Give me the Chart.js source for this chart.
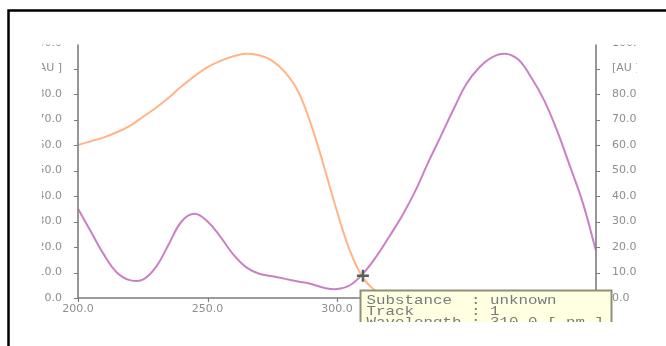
<!DOCTYPE html>
<html>
<head>
<meta charset="utf-8">
<script src="https://cdn.jsdelivr.net/npm/chart.js@4.4.1/dist/chart.umd.min.js"></script>
<style>
  html, body { margin: 0; padding: 0; background: #ffffff; }
  #wrap { position: relative; width: 666px; height: 346px; }
</style>
</head>
<body>
<div id="wrap"><canvas id="c" width="666" height="346"></canvas></div>
<script>
// Track 1 scan: two absorbance traces (AU) over wavelength (nm)
const wavelengthsA = [200, 205, 210, 215, 220, 225, 230, 235, 240, 245, 250, 255, 260,
                      265, 270, 275, 280, 285, 290, 295, 300, 305, 310, 315, 320];
const absorbanceA  = [60, 61.5, 63, 65, 67.5, 71, 74.5, 78.5, 83, 87, 90.5, 93, 94.8,
                      95.8, 95.2, 93, 88.5, 81, 68, 51.5, 34, 18.5, 8, 2.5, -3];

const wavelengthsB = [200, 205, 210, 215, 220, 225, 230, 235, 240, 245, 250, 255, 260,
                      265, 270, 275, 280, 285, 290, 295, 300, 305, 310, 315, 320, 325,
                      330, 335, 340, 345, 350, 355, 360, 365, 370, 375, 380, 385, 390,
                      395, 400];
const absorbanceB  = [35, 26, 17, 10, 7, 7.2, 12, 21, 30, 33, 30, 24, 17,
                      12, 9.5, 8.5, 7.5, 6.5, 5.5, 4, 3.5, 5, 9.5, 16, 23.8, 32,
                      41.5, 52.7, 63.3, 74, 84, 90.5, 94.5, 95.8, 93.5, 86.5, 77.5, 65.5, 51.5,
                      37, 18.5];

const xTickValues = [200, 250, 300, 350, 400];
const xTickLabels = ['200.0', '250.0', '300.0', '350.0', '400.0'];
const yTickValues = [0, 10, 20, 30, 40, 50, 60, 70, 80, 90, 100];
const yTickLabels = ['0.0', '10.0', '20.0', '30.0', '40.0', '50.0', '60.0', '70.0', '80.0', '[AU ]', '100.0'];

// Info box for the cursor position
const cursorWavelength = 310;
const infoLines = [
  'Substance  : unknown',
  'Track      : 1',
  'Wavelength : 310.0 [ nm ]'
];

const toPoints = (xs, ys) => xs.map((x, i) => ({ x: x, y: ys[i] }));

const AXIS = '#7c7c7c';
const LABEL = '#8e8e8e';

function stretchedText(ctx, text, x, y, sx, align) {
  ctx.save();
  ctx.translate(x, y);
  ctx.scale(sx, 1);
  ctx.textAlign = align;
  ctx.fillText(text, 0, 0);
  ctx.restore();
}

const axesPlugin = {
  id: 'scanAxes',
  afterDatasetsDraw(chart) {
    const ctx = chart.ctx;
    const xs = chart.scales.x;
    const ys = chart.scales.y;
    const area = chart.chartArea;

    ctx.save();
    // visible viewport of the instrument window
    ctx.beginPath();
    ctx.rect(42, 44.5, 595, 277.5);
    ctx.clip();

    // axis lines
    ctx.strokeStyle = AXIS;
    ctx.lineWidth = 1.6;
    ctx.beginPath();
    ctx.moveTo(area.left, ys.getPixelForValue(100));
    ctx.lineTo(area.left, ys.getPixelForValue(0));
    ctx.lineTo(area.right, ys.getPixelForValue(0));
    ctx.moveTo(area.right, ys.getPixelForValue(100));
    ctx.lineTo(area.right, ys.getPixelForValue(0));
    ctx.stroke();

    // y ticks on both sides, x ticks below
    ctx.lineWidth = 1.2;
    ctx.beginPath();
    yTickValues.forEach(v => {
      const py = Math.round(ys.getPixelForValue(v)) + 0.5;
      ctx.moveTo(area.left - 4, py); ctx.lineTo(area.left, py);
      ctx.moveTo(area.right, py); ctx.lineTo(area.right + 4, py);
    });
    xTickValues.forEach(v => {
      const px = Math.round(xs.getPixelForValue(v)) + 0.5;
      ctx.moveTo(px, area.bottom); ctx.lineTo(px, area.bottom + 4);
    });
    ctx.stroke();

    // tick labels
    ctx.fillStyle = LABEL;
    ctx.font = '11px "DejaVu Sans"';
    ctx.textBaseline = 'middle';
    yTickValues.forEach((v, i) => {
      const py = ys.getPixelForValue(v);
      stretchedText(ctx, yTickLabels[i], area.left - 16, py, 1.0, 'right');
      stretchedText(ctx, yTickLabels[i], area.right + 16, py, 1.0, 'left');
    });
    xTickValues.forEach((v, i) => {
      stretchedText(ctx, xTickLabels[i], xs.getPixelForValue(v), area.bottom + 11, 1.0, 'center');
    });

    // cursor cross on the lower trace
    const ci = wavelengthsB.indexOf(cursorWavelength);
    const cx = xs.getPixelForValue(cursorWavelength);
    const cy = ys.getPixelForValue(absorbanceB[ci]) + 2;
    ctx.strokeStyle = '#55625a';
    ctx.lineWidth = 2.4;
    ctx.beginPath();
    ctx.moveTo(cx - 6, cy); ctx.lineTo(cx + 6, cy);
    ctx.moveTo(cx, cy - 6); ctx.lineTo(cx, cy + 6);
    ctx.stroke();

    // info box
    const bx = Math.round(cx) - 2.5;
    const by = Math.round(cy) + 14.5;
    ctx.fillStyle = '#ffffe2';
    ctx.fillRect(bx, by, 251, 60);
    ctx.strokeStyle = '#8f8f7a';
    ctx.lineWidth = 2;
    ctx.strokeRect(bx, by, 251, 60);
    ctx.fillStyle = '#7a7a7a';
    ctx.font = '13px "Liberation Mono"';
    ctx.textBaseline = 'alphabetic';
    infoLines.forEach((t, i) => {
      stretchedText(ctx, t, bx + 6, by + 13 + i * 11, 1.218, 'left');
    });
    ctx.restore();

    // window frame
    ctx.save();
    ctx.strokeStyle = '#000000';
    ctx.lineWidth = 2.5;
    ctx.beginPath();
    ctx.moveTo(8.5, 346);
    ctx.lineTo(8.5, 10.5);
    ctx.lineTo(666, 10.5);
    ctx.stroke();
    ctx.restore();
  }
};

new Chart(document.getElementById('c'), {
  type: 'line',
  data: {
    datasets: [
      {
        data: toPoints(wavelengthsA, absorbanceA),
        borderColor: '#ffb48a',
        borderWidth: 2,
        pointRadius: 0,
        tension: 0.4,
        fill: false
      },
      {
        data: toPoints(wavelengthsB, absorbanceB),
        borderColor: '#c882c4',
        borderWidth: 2,
        pointRadius: 0,
        tension: 0.4,
        fill: false
      }
    ]
  },
  options: {
    responsive: false,
    animation: false,
    layout: { padding: { left: 78, right: 70, top: 43, bottom: 48 } },
    scales: {
      x: { type: 'linear', min: 200, max: 400, display: false },
      y: { min: 0, max: 100, display: false }
    },
    plugins: {
      legend: { display: false },
      tooltip: { enabled: false }
    }
  },
  plugins: [axesPlugin]
});
</script>
</body>
</html>
